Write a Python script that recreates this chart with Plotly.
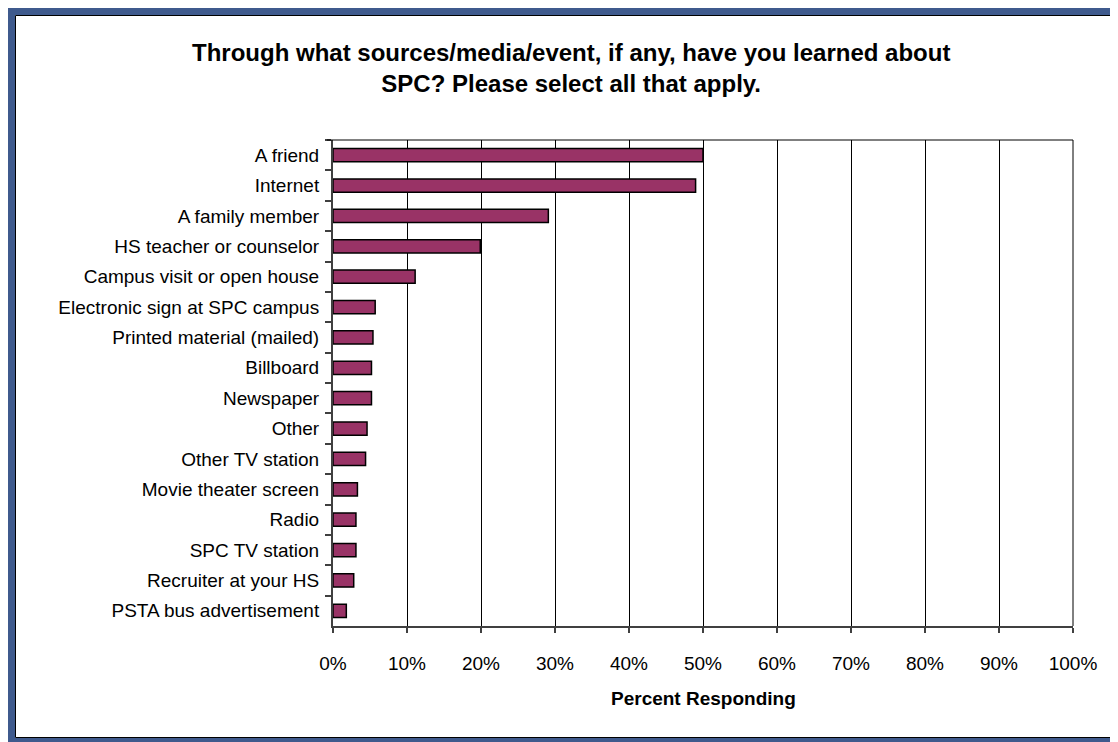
import plotly.graph_objects as go

categories = [
    "A friend", "Internet", "A family member", "HS teacher or counselor",
    "Campus visit or open house", "Electronic sign at SPC campus",
    "Printed material (mailed)", "Billboard", "Newspaper", "Other",
    "Other TV station", "Movie theater screen", "Radio", "SPC TV station",
    "Recruiter at your HS", "PSTA bus advertisement",
]
percent = [50.0, 49.0, 29.1, 19.9, 11.1, 5.7, 5.4, 5.2, 5.2, 4.6, 4.4, 3.3, 3.1, 3.1, 2.8, 1.8]
x_ticks = [0, 10, 20, 30, 40, 50, 60, 70, 80, 90, 100]
x_tick_labels = [f"{v}%" for v in x_ticks]

# the page places the figure 8px from the top-left corner; compensate
OFF = 8
W, H = 1118, 742
PL, PT, PR, PB = 333, 140, 1073, 626          # plot area in screen pixels
L, T = PL - OFF, PT - OFF
pw, ph = PR - PL, PB - PT
R = W - L - pw
B = H - T - ph

def px(x):
    return (x - PL) / pw

def py(y):
    return (PB - y) / ph

FONT = "Liberation Sans, Arial, sans-serif"
BLUE = "#3F5A8D"

fig = go.Figure(go.Bar(
    x=percent, y=categories, orientation="h",
    marker=dict(color="#993366", line=dict(color="black", width=1.5)),
))

shapes = [
    # frame
    dict(type="rect", xref="paper", yref="paper", x0=px(7), x1=px(15), y0=py(742), y1=py(7),
         fillcolor=BLUE, line=dict(width=0), layer="above"),
    dict(type="rect", xref="paper", yref="paper", x0=px(7), x1=px(1118), y0=py(15), y1=py(7),
         fillcolor=BLUE, line=dict(width=0), layer="above"),
    dict(type="rect", xref="paper", yref="paper", x0=px(7), x1=px(1118), y0=py(742), y1=py(738),
         fillcolor=BLUE, line=dict(width=0), layer="above"),
    dict(type="line", xref="paper", yref="paper", x0=px(15.5), x1=px(15.5), y0=py(737.5), y1=py(15.5),
         line=dict(color="black", width=1), layer="above"),
    dict(type="line", xref="paper", yref="paper", x0=px(15.5), x1=px(1118), y0=py(15.5), y1=py(15.5),
         line=dict(color="black", width=1), layer="above"),
    dict(type="line", xref="paper", yref="paper", x0=px(15.5), x1=px(1118), y0=py(737.5), y1=py(737.5),
         line=dict(color="black", width=1), layer="above"),
    # plot area top and right borders
    dict(type="line", xref="paper", yref="paper", x0=px(327), x1=1, y0=1, y1=1,
         line=dict(color="black", width=1)),
    dict(type="line", xref="paper", yref="paper", x0=1, x1=1, y0=0, y1=1,
         line=dict(color="black", width=1)),
]

annotations = [
    dict(text="<b>Through what sources/media/event, if any, have you learned about<br>SPC? Please select all that apply.</b>",
         xref="paper", yref="paper", x=px(571), y=py(68), xanchor="center", yanchor="middle",
         showarrow=False, font=dict(family=FONT, size=24, color="black"), align="center"),
    dict(text="<b>Percent Responding</b>", xref="paper", yref="paper",
         x=px(703), y=py(698), xanchor="center", yanchor="middle", showarrow=False,
         font=dict(family=FONT, size=19, color="black")),
]

fig.update_layout(
    width=W, height=H,
    margin=dict(l=L, r=R, t=T, b=B, pad=0),
    paper_bgcolor="white", plot_bgcolor="white",
    showlegend=False, bargap=0.56,
    shapes=shapes, annotations=annotations,
    font=dict(family=FONT, color="black"),
)
fig.update_xaxes(
    range=[0, 100], tickvals=x_ticks, ticktext=x_tick_labels,
    showgrid=True, gridcolor="black", gridwidth=1, zeroline=False,
    showline=True, linecolor="#404040", linewidth=2,
    ticks="outside", ticklen=5, tickcolor="#404040", tickwidth=1.5,
    tickfont=dict(family=FONT, size=19, color="black"), ticklabelstandoff=14,
    fixedrange=True,
)
fig.update_yaxes(
    autorange="reversed", type="category", tickson="boundaries",
    showgrid=False, showline=True, linecolor="#404040", linewidth=2,
    ticks="outside", ticklen=6, tickcolor="#404040", tickwidth=1.5,
    tickfont=dict(family=FONT, size=19, color="black"), ticklabelstandoff=8,
    fixedrange=True,
)

fig.write_html("out.html")
